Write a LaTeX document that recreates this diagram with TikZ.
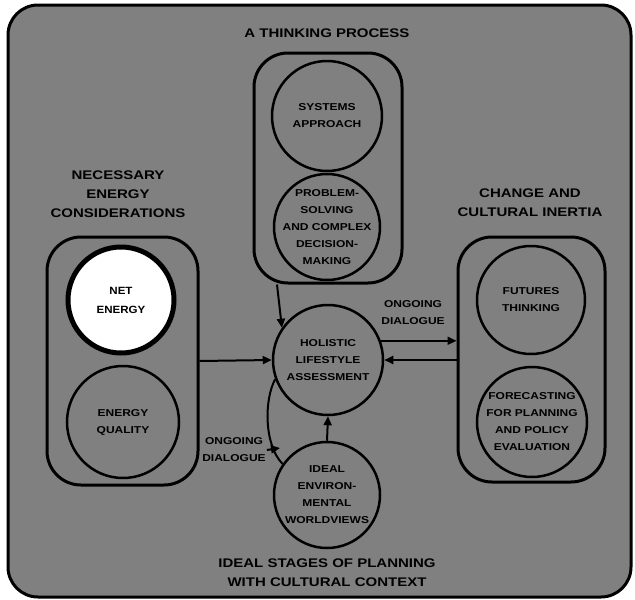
\documentclass[tikz,border=0pt]{standalone}
\usepackage{fontspec}
\usetikzlibrary{arrows.meta,shapes.geometric,calc}
\newfontfamily\labfont{Liberation Sans}[FakeStretch=1.2]
\newfontfamily\netfont{Liberation Sans}[FakeStretch=1.1]
\definecolor{screen}{gray}{0.5}
\begin{document}
\begin{tikzpicture}[x=1pt,y=-1pt,
  groupbox/.style={draw=black,line width=3pt,rounded corners=34pt,rectangle,inner sep=0pt},
  stage/.style={draw=black,line width=2.5pt,circle,inner sep=-20pt,align=center,
    font=\labfont\bfseries\fontsize{10}{17}\selectfont},
  caption/.style={align=center,inner sep=1pt,font=\labfont\bfseries\fontsize{12.5}{19}\selectfont},
  talk/.style={align=center,inner sep=1pt,font=\labfont\bfseries\fontsize{10}{17}\selectfont},
  arr/.style={line width=2pt,-{Triangle[length=9pt,width=8pt]}},
  link/.style={line width=2pt}]
\useasboundingbox (0,0) rectangle (635,600);
% outer frame with the halftone-grey ground
\draw[line width=3pt,rounded corners=30pt,fill=screen] (8,5) rectangle (631,597);

% the three groups
\node[groupbox,minimum width=148pt,minimum height=230pt] (thinkbox) at (328,168) {};
\node[groupbox,minimum width=151pt,minimum height=248pt] (energybox) at (122.5,361) {};
\node[groupbox,minimum width=147pt,minimum height=245pt] (changebox) at (531.5,359.5) {};

% group captions
\node[caption] (thinkcap) at (327,33) {A THINKING PROCESS};
\node[caption] (energycap) at (118,194) {NECESSARY\\ENERGY\\CONSIDERATIONS};
\node[caption] (changecap) at (530,203) {CHANGE AND\\CULTURAL INERTIA};
\node[caption] (stagecap) at (327,573) {IDEAL STAGES OF PLANNING\\WITH CULTURAL CONTEXT};

% stages
\node[stage,minimum size=110pt] (systems) at (327,116) {SYSTEMS\\APPROACH};
\node[stage,minimum size=106pt] (problem) at (327,227) {PROBLEM-\\SOLVING\\AND COMPLEX\\DECISION-\\MAKING};
\node[stage,minimum size=106pt,fill=white,line width=5pt,
  font=\netfont\bfseries\fontsize{10.5}{19}\selectfont] (netenergy) at (121,300) {NET\\ENERGY};
\node[stage,minimum size=112pt] (quality) at (123,422) {ENERGY\\QUALITY};
\node[stage,minimum size=108pt] (futures) at (531,300) {FUTURES\\THINKING};
\node[stage,minimum size=110pt] (forecast) at (532,422) {FORECASTING\\FOR PLANNING\\AND POLICY\\EVALUATION};
\node[stage,minimum size=110pt] (holistic) at (328,360) {HOLISTIC\\LIFESTYLE\\ASSESSMENT};
\node[stage,minimum size=106pt] (ideal) at (327,495) {IDEAL\\ENVIRON-\\MENTAL\\WORLDVIEWS};

% dialogue labels
\node[talk] (talkright) at (413,313) {ONGOING\\DIALOGUE};
\node[talk] (talkleft) at (234,450) {ONGOING\\DIALOGUE};

% connectors
\draw[arr] (energybox.east) -- (holistic.west);
\draw[arr] ([xshift=-51pt]thinkbox.south) -- (holistic.145);
\draw[arr] (holistic.20) -- (changebox.west |- holistic.20);
\draw[arr] (changebox.west |- holistic.east) -- (holistic.east);
\draw[arr] (ideal.north) -- (holistic.south);
\draw[link] (holistic.200) .. controls (264,400) and (264,445) .. (ideal.145);
\coordinate (arcpt) at (280,448);
\draw[arr] (talkleft.east) -- (arcpt);
\end{tikzpicture}
\end{document}
